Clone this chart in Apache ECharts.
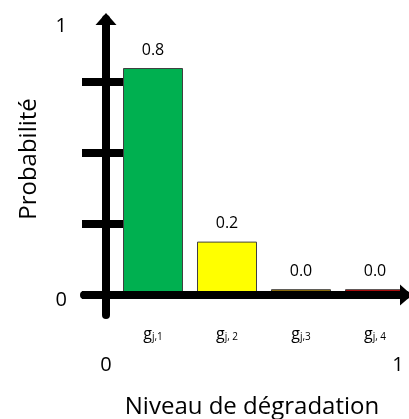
<!DOCTYPE html>
<html><head><meta charset="utf-8">
<script src="https://cdn.jsdelivr.net/npm/echarts@6/dist/echarts.min.js"></script>
<style>html,body{margin:0;padding:0;background:#fff}#c{width:409px;height:419px}</style>
</head><body><div id="c"></div>
<script>
const subscripts = ['j,1', 'j, 2', 'j,3', 'j, 4'];
const probabilities = [0.8, 0.18, 0.01, 0.01];
const barColors = ['#00B050', '#FFFF00', '#997300', '#C00000'];
const yTickValues = [0, 0.25, 0.5, 0.75];
const yInnerTickValues = [0.25, 0.5, 0.75];
const yEndLabels = [0, 1];
const xEndLabels = [0, 1];
const yTitle = 'Probabilité';
const xTitle = 'Niveau de dégradation';

const F = '"Open Sans", sans-serif';
const chart = echarts.init(document.getElementById('c'));
const axisLineStyle = {color: '#000', width: 8};
// axes grid: value 0 at y=295, 284 px per unit
const yMin = -20 / 284, yMax = 276 / 284;
chart.setOption({
  animation: false,
  grid: [
    {left: 116, top: 12, width: 296, height: 280, containLabel: false, outerBoundsMode: 'none'},
    {left: 84, top: 19, width: 322, height: 296, containLabel: false, outerBoundsMode: 'none'}
  ],
  xAxis: [
    {gridIndex: 0, type: 'category', data: subscripts,
     axisLine: {show: false}, axisTick: {show: false},
     axisLabel: {interval: 0, margin: 34, formatter: s => '{g|g}{s|' + s + '}',
       rich: {g: {fontFamily: F, fontSize: 16, color: '#000'},
              s: {fontFamily: F, fontSize: 10, color: '#000', verticalAlign: 'bottom'}}}},
    {gridIndex: 1, type: 'value', min: -22 / 292, max: 300 / 292, z: 5,
     splitLine: {show: false}, axisTick: {show: false},
     axisLine: {onZero: true, lineStyle: axisLineStyle, symbol: ['none', 'triangle'], symbolSize: [21, 12]},
     axisLabel: {customValues: xEndLabels, margin: 40, fontFamily: F, fontSize: 20, color: '#000',
       formatter: v => String(Math.round(v))},
     name: xTitle, nameLocation: 'middle', nameGap: 80,
     nameTextStyle: {fontFamily: F, fontSize: 24, color: '#000', padding: [0, 0, 0, 14]}}
  ],
  yAxis: [
    {gridIndex: 0, type: 'value', min: 0, max: 1,
     axisLine: {show: false}, axisTick: {show: false}, splitLine: {show: false},
     axisLabel: {customValues: yEndLabels, margin: 49,
       formatter: v => v === 1 ? '{one|1}' : '{zero|0}',
       rich: {one: {fontFamily: F, fontSize: 20, color: '#000', padding: [28, 0, 0, 0]},
              zero: {fontFamily: F, fontSize: 20, color: '#000', padding: [16, 0, 0, 0]}}}},
    {gridIndex: 1, type: 'value', min: yMin, max: yMax, z: 5,
     axisLine: {onZero: true, lineStyle: axisLineStyle, symbol: ['none', 'triangle'], symbolSize: [21, 12]},
     axisTick: {show: true, customValues: yTickValues, length: 24, lineStyle: {color: '#000', width: 8}},
     axisLabel: {show: false}, splitLine: {show: false},
     name: yTitle, nameLocation: 'middle', nameGap: 43, nameRotate: 90,
     nameTextStyle: {fontFamily: F, fontSize: 24, color: '#000', padding: [0, 0, 0, 16]}},
    {gridIndex: 1, type: 'value', min: yMin, max: yMax, z: 5, position: 'left', offset: -22,
     axisLine: {show: false, onZero: false},
     axisTick: {show: true, inside: true, customValues: yInnerTickValues, length: 17, lineStyle: {color: '#000', width: 8}},
     axisLabel: {show: false}, splitLine: {show: false}}
  ],
  series: [{
    type: 'bar', xAxisIndex: 0, yAxisIndex: 0, barWidth: 60,
    data: probabilities.map((v, i) => ({value: v, itemStyle: {color: barColors[i]}})),
    itemStyle: {borderColor: '#404040', borderWidth: 1},
    label: {show: true, position: 'top', distance: 10, fontFamily: F, fontSize: 16, color: '#000',
      formatter: p => p.value.toFixed(1)}
  }]
});
</script></body></html>
